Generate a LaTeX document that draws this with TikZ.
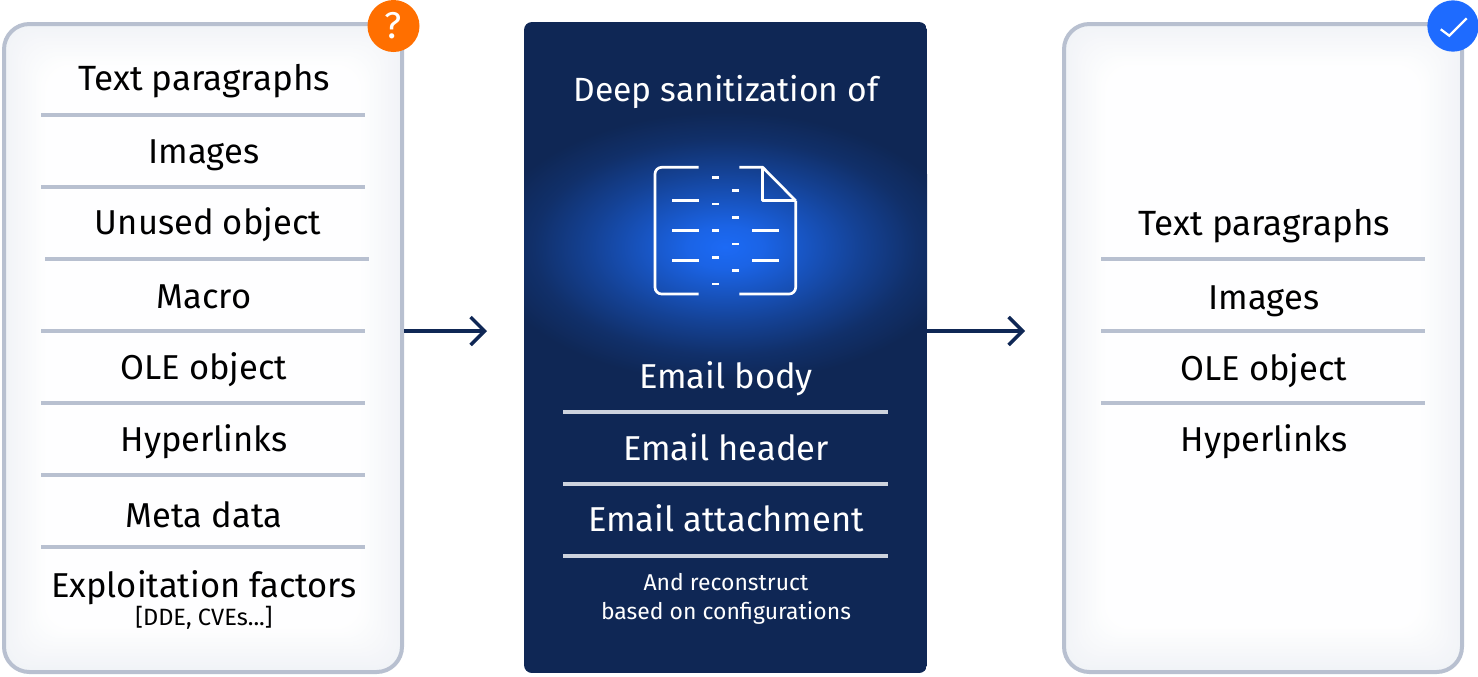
\documentclass[tikz,border=0pt]{standalone}
\usepackage{fontspec}
\setmainfont{Fira Sans}
\usetikzlibrary{arrows.meta,calc}
\definecolor{navy}{HTML}{0F2755}
\definecolor{rulec}{HTML}{B8C0D0}
\definecolor{edgec}{HTML}{F1F3F7}
\definecolor{glow}{HTML}{1C6AF5}
\definecolor{orangeb}{HTML}{FF6F00}
\definecolor{blueb}{HTML}{1E6BFF}
\pgfdeclareradialshading{glowshade}{\pgfpoint{0bp}{0bp}}{
 color(0bp)=(glow); color(4bp)=(glow!90!navy); color(9bp)=(glow!65!navy); color(14bp)=(glow!40!navy); color(20bp)=(glow!13!navy); color(25bp)=(navy); color(50bp)=(navy)}
\tikzset{
 x=0.75pt,y=-0.75pt,
 panel/.style={rounded corners=19pt,draw=rulec,line width=3pt,minimum width=298.5pt,minimum height=486pt,anchor=north west,inner sep=0pt},
 sep/.style={draw=rulec,line width=2.6pt},
 seplight/.style={draw=rulec!70!white,line width=2.6pt},
 lbl/.style={anchor=base,inner sep=0pt,font=\fontsize{25.9}{30}\selectfont,text=black},
 lblw/.style={lbl,text=white},
 lblwide/.style={lbl,font=\fontsize{26.3}{30}\selectfont},
 small/.style={anchor=base,inner sep=0pt,font=\fontsize{17.7}{20}\selectfont,text=black},
 smallw/.style={anchor=base,inner sep=0pt,font=\fontsize{17.2}{20}\selectfont,text=white},
 flow/.style={draw=navy,line width=2.6pt,-{Straight Barb[length=10.5pt,width=21pt,line width=2.6pt]}},
 icon/.style={draw=white,line width=2pt,line join=round},
}
\begin{document}
\begin{tikzpicture}
\useasboundingbox (0,0) rectangle (1478,676);
% left panel
\foreach \i in {0,...,24}{
 \pgfmathsetmacro{\mx}{4*\i}
 \fill[white!\mx!edgec,rounded corners=19pt] (3+\i*1.8,23+\i*1.8) rectangle (403-\i*1.8,671-\i*1.8);
}
\node[panel] (inbox) at (2,22) {};
% right panel
\foreach \i in {0,...,24}{
 \pgfmathsetmacro{\mx}{4*\i}
 \fill[white!\mx!edgec,rounded corners=19pt] (1063+\i*1.8,23+\i*1.8) rectangle (1463-\i*1.8,671-\i*1.8);
}
\node[panel] (outbox) at (1062,22) {};
% centre panel
\begin{scope}
 \clip[rounded corners=6pt] (524,22) rectangle (927,673);
 \fill[navy] (524,22) rectangle (927,673);
 \shade[shading=glowshade] (725,247) ellipse [x radius=240, y radius=135];
\end{scope}
\node[minimum width=302.25pt,minimum height=488.25pt,anchor=north west,inner sep=0pt,outer sep=0pt] (mid) at (524,22) {};
% icon
\draw[icon,rounded corners=5pt] (698.7,167.3) -- (655,167.3) -- (655,294) -- (698.7,294);
\draw[icon,rounded corners=5pt] (739.3,294) -- (795.7,294) -- (795.7,200.7);
\draw[icon] (795.7,200.7) -- (762.7,167.3) -- (739.3,167.3);
\draw[icon] (762.7,167.3) -- (762.7,200.7) -- (795.7,200.7);
\foreach \y in {200.7,230.7,260.7} \draw[icon] (672,\y) -- (698.7,\y);
\foreach \y in {230.7,260.7} \draw[icon] (752.3,\y) -- (779,\y);
\foreach \y in {177.3,204,230.7,257.3,284} \draw[icon] (712.3,\y) -- (719,\y);
\foreach \y in {190.7,217.3,244,270.7} \draw[icon] (732.3,\y) -- (739,\y);
% left rules
\foreach \y in {115,187,331,403,475,547} \draw[sep] (41,\y) -- (365,\y);
\draw[sep] (45,259) -- (369,259);
% centre rules
\foreach \y in {412,484,556} \draw[seplight] (563,\y) -- (888,\y);
% right rules
\foreach \y in {259,331,403} \draw[sep] (1101,\y) -- (1425,\y);
% left text
\node[lblwide] (l1) at (204,90) {Text paragraphs};
\node[lbl] (l2) at (204,163) {Images};
\node[lbl] (l3) at (208,234) {Unused object};
\node[lbl] (l4) at (204,308) {Macro};
\node[lbl] (l5) at (204,379) {OLE object};
\node[lbl] (l6) at (204,451) {Hyperlinks};
\node[lbl] (l7) at (204,527) {Meta data};
\node[lbl] (l8) at (204,597) {Exploitation factors};
\node[small] (l9) at (204,625) {[DDE, CVEs...]};
% middle text
\node[lblw,font=\fontsize{25.2}{30}\selectfont] (m0) at (726,101) {Deep sanitization of};
\node[lblw] (m1) at (726,388) {Email body};
\node[lblw] (m2) at (726,460) {Email header};
\node[lblw] (m3) at (726,531) {Email attachment};
\node[smallw] (m4) at (726,590) {And reconstruct};
\node[smallw] (m5) at (726,619) {based on configurations};
% right text
\node[lblwide] (r1) at (1264,235) {Text paragraphs};
\node[lbl] (r2) at (1264,309) {Images};
\node[lbl] (r3) at (1264,380) {OLE object};
\node[lbl] (r4) at (1264,451) {Hyperlinks};
% badges
\node[circle,fill=orangeb,minimum size=39pt,inner sep=0pt,text=white,font=\fontsize{28}{30}\selectfont] (qb) at (393.5,26) {?};
\node[circle,fill=blueb,minimum size=38.5pt,inner sep=0pt] (cb) at (1453,26) {};
\draw[white,line width=1.7pt] ($(cb.center)+(-12.3,3.3)$) -- ($(cb.center)+(-3.7,9.7)$) -- ($(cb.center)+(13.7,-7.7)$);
% arrows
\coordinate (a1) at (487,331);
\coordinate (a2) at (1025,331);
\draw[flow] (inbox.east |- a1) -- (a1);
\draw[flow] (mid.east |- a2) -- (a2);
\end{tikzpicture}
\end{document}
